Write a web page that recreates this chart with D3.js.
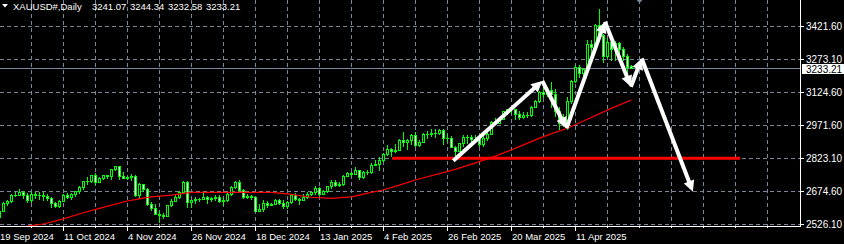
<!DOCTYPE html>
<html>
<head>
<meta charset="utf-8">
<title>XAUUSD#, Daily</title>
<script src="https://d3js.org/d3.v7.min.js"></script>
<style>
  html, body { margin: 0; padding: 0; background: #000; }
  svg { display: block; }
  text { font-family: "Liberation Sans", Arial, sans-serif; }
</style>
</head>
<body>
<svg id="chart" width="844" height="244"></svg>
<script>
// daily bars, index 0 = 19 Sep 2024
const opens = [2559,2587,2622,2628,2656,2657,2672,2658,2634,2663,2659,2656,2653,2644,2622,2608,2630,2657,2648,2662,
  2674,2692,2721,2720,2748,2716,2736,2747,2743,2774,2788,2743,2736,2737,2743,2659,2706,2685,2618,2598,
  2573,2565,2563,2612,2631,2650,2670,2715,2625,2633,2638,2640,2650,2640,2643,2650,2632,2633,2660,2694,
  2718,2680,2648,2652,2646,2587,2594,2622,2612,2617,2634,2621,2606,2624,2658,2640,2636,2648,2662,2670,
  2690,2663,2677,2697,2715,2703,2708,2745,2755,2754,2770,2740,2763,2760,2794,2798,2815,2842,2866,2856,
  2861,2908,2898,2904,2928,2883,2898,2935,2933,2939,2936,2951,2915,2916,2876,2858,2893,2918,2920,2910,
  2911,2889,2916,2934,2987,2984,3001,3035,3047,3044,3023,3011,3020,3019,3057,3084,3123,3113,3134,3114,
  3037,2985,2982,3082,3175,3237,3211,3229,3342,3326,3424,3381,3288,3349,3319,3344,3316,3288,3241.07];
const highs = [2600,2625,2634,2664,2670,2685,2674,2665,2673,2671,2669,2670,2660,2646,2625,2633,2660,2666,2665,2675,
  2696,2722,2740,2749,2758,2738,2749,2749,2775,2790,2790,2760,2745,2750,2749,2710,2709,2688,2626,2618,
  2583,2578,2614,2639,2656,2676,2721,2722,2636,2650,2643,2665,2652,2650,2657,2655,2646,2668,2696,2721,
  2726,2686,2660,2655,2654,2615,2633,2630,2620,2639,2637,2634,2628,2664,2665,2645,2660,2670,2673,2697,
  2692,2680,2700,2725,2725,2715,2746,2763,2760,2786,2772,2765,2771,2800,2817,2830,2845,2882,2870,2887,
  2911,2943,2910,2932,2942,2906,2937,2947,2954,2954,2956,2956,2931,2923,2881,2894,2927,2930,2927,2930,
  2913,2922,2941,2990,3005,3005,3038,3048,3057,3047,3036,3033,3032,3060,3087,3128,3149,3136,3167,3135,
  3055,3022,3099,3176,3245,3245,3232,3357,3358,3430,3500,3386,3367,3371,3352,3348,3328,3295,3244.34];
const lows = [2555,2585,2614,2624,2651,2655,2645,2624,2624,2644,2641,2635,2636,2605,2605,2603,2628,2642,2641,2652,
  2666,2685,2708,2714,2709,2715,2729,2732,2730,2770,2730,2733,2730,2725,2652,2643,2676,2610,2590,2572,
  2537,2555,2562,2606,2629,2643,2666,2605,2605,2621,2630,2637,2622,2632,2635,2625,2613,2631,2655,2689,
  2676,2643,2643,2637,2583,2583,2583,2603,2610,2615,2615,2597,2597,2622,2633,2615,2634,2645,2656,2664,
  2656,2660,2669,2689,2699,2696,2702,2741,2745,2752,2730,2735,2750,2755,2791,2772,2809,2837,2834,2853,
  2859,2880,2864,2890,2877,2881,2896,2915,2925,2918,2931,2890,2903,2874,2832,2857,2880,2894,2895,2896,
  2880,2880,2905,2932,2978,2982,2999,3023,3029,2999,3000,3007,3012,3013,3054,3076,3100,3106,3054,3015,
  2956,2970,2957,3072,3168,3193,3201,3227,3284,3323,3367,3260,3282,3266,3269,3300,3268,3202,3232.58];
const closes = [2587,2622,2628,2657,2657,2672,2658,2634,2663,2659,2656,2653,2644,2622,2608,2630,2657,2648,2662,2674,
  2692,2721,2720,2748,2716,2736,2747,2743,2774,2788,2743,2736,2737,2743,2659,2706,2685,2618,2598,2573,
  2565,2563,2612,2631,2650,2670,2715,2625,2633,2638,2640,2650,2640,2643,2650,2632,2633,2660,2694,2718,
  2680,2648,2652,2646,2587,2594,2622,2612,2617,2634,2621,2606,2624,2658,2640,2636,2648,2662,2670,2690,
  2663,2677,2697,2715,2703,2708,2745,2755,2754,2770,2740,2763,2760,2794,2798,2815,2842,2866,2856,2861,
  2908,2898,2904,2928,2883,2898,2935,2933,2939,2936,2951,2915,2916,2876,2858,2893,2918,2920,2910,2911,
  2889,2916,2934,2987,2984,3001,3035,3047,3044,3023,3011,3020,3019,3057,3084,3123,3113,3134,3114,3037,
  2982,2982,3082,3175,3237,3211,3229,3342,3326,3424,3381,3288,3349,3319,3344,3316,3288,3238,3233.21];

// moving average: [bar, price]
const maPoints = [[7,2517],[11,2526],[16,2549],[21,2577],[25,2597],[32,2630],[35,2640],[38,2649],[43,2657],
  [48,2669],[68,2669],[72,2662],[78,2647],[83,2642],[88,2649],[93,2669],[96,2680],[100,2702],[104,2725],
  [114,2773],[120,2808],[124,2833],[130,2876],[136,2921],[142,2959],[147,3000],[153,3049],[158,3087]];

// drawn objects: support level and zigzag arrows
const levelLine = [[98.25,2823],[185.2,2823]];
const zigzag = [[113.5,2812],[135.75,3173],[141.8,2959],[151.4,3441],[157.9,3147],[160.6,3275],[173.4,2672]];

const priceTicks = [3421.60, 3273.10, 3124.60, 2971.60, 2823.10, 2674.60, 2526.10];
const dateTicks = [0, 16, 32, 48, 64, 80, 96, 112, 128, 144];
const dateLabels = ["19 Sep 2024", "11 Oct 2024", "4 Nov 2024", "26 Nov 2024", "18 Dec 2024",
  "13 Jan 2025", "4 Feb 2025", "26 Feb 2025", "20 Mar 2025", "11 Apr 2025"];

const lime = "#00ff00", gridColor = "#778899";
const plotRight = 800, plotBottom = 226;

const svg = d3.select("#chart");
svg.append("rect").attr("width", 844).attr("height", 244).attr("fill", "#000");

const x = d3.scaleLinear().domain([0, 200]).range([-0.7, 799.3]);
const y = d3.scaleLinear().domain([2526.1, 3421.6]).range([224, 26]);
const col = i => Math.round(x(i));

svg.append("clipPath").attr("id", "plot")
  .append("rect").attr("x", 0).attr("y", 0).attr("width", plotRight).attr("height", plotBottom);

// grid
const grid = svg.append("g").attr("stroke", gridColor).attr("stroke-dasharray", "4,3");
grid.selectAll("line.v").data(d3.range(8, 200, 8).filter(i => x(i) < 798)).join("line")
  .attr("x1", i => col(i) + 0.5).attr("x2", i => col(i) + 0.5)
  .attr("y1", 0).attr("y2", plotBottom);
grid.selectAll("line.h").data(priceTicks).join("line")
  .attr("x1", 0).attr("x2", plotRight)
  .attr("y1", p => Math.round(y(p)) + 0.5).attr("y2", p => Math.round(y(p)) + 0.5);

const plot = svg.append("g").attr("clip-path", "url(#plot)");

// current price line
const last = closes.length - 1;
plot.append("line")
  .attr("x1", 0).attr("x2", plotRight)
  .attr("y1", Math.round(y(closes[last])) + 0.5).attr("y2", Math.round(y(closes[last])) + 0.5)
  .attr("stroke", gridColor);

// candles
const bars = closes.map((c, i) => ({ i, o: opens[i], h: highs[i], l: lows[i], c }));
plot.selectAll("line.wick").data(bars).join("line")
  .attr("x1", d => col(d.i) + 0.5).attr("x2", d => col(d.i) + 0.5)
  .attr("y1", d => Math.round(y(d.h))).attr("y2", d => Math.round(y(d.l)) + 1)
  .attr("stroke", lime);
plot.selectAll("rect.body").data(bars).join("rect")
  .each(function (d) {
    const top = Math.round(y(Math.max(d.o, d.c)));
    const bot = Math.round(y(Math.min(d.o, d.c)));
    const r = d3.select(this);
    if (bot - top < 1) {
      r.attr("x", col(d.i) - 1).attr("y", top).attr("width", 3).attr("height", 1).attr("fill", lime);
    } else {
      r.attr("x", col(d.i) - 0.5).attr("y", top + 0.5).attr("width", 2).attr("height", bot - top)
        .attr("fill", d.c >= d.o ? "#000" : "#fff").attr("stroke", lime);
    }
  });

// moving average
plot.append("path").datum(maPoints)
  .attr("d", d3.line().x(d => x(d[0])).y(d => y(d[1])))
  .attr("fill", "none").attr("stroke", "#ff0000").attr("stroke-width", 1.2);

// support level
plot.append("path").datum(levelLine)
  .attr("d", d3.line().x(d => x(d[0])).y(d => y(d[1])))
  .attr("stroke", "#ff0000").attr("stroke-width", 3);

// zigzag arrows
const arrows = plot.append("g");
for (let k = 1; k < zigzag.length; k++) {
  const x0 = x(zigzag[k - 1][0]), y0 = y(zigzag[k - 1][1]);
  const x1 = x(zigzag[k][0]), y1 = y(zigzag[k][1]);
  const len = Math.hypot(x1 - x0, y1 - y0), ux = (x1 - x0) / len, uy = (y1 - y0) / len;
  const headL = 11, headW = 5.5;
  const bx = x1 - ux * headL, by = y1 - uy * headL;
  arrows.append("line")
    .attr("x1", x0).attr("y1", y0).attr("x2", x1 - ux * (headL - 2)).attr("y2", y1 - uy * (headL - 2))
    .attr("stroke", "#fff").attr("stroke-width", 4);
  arrows.append("polygon")
    .attr("points", [[x1, y1], [bx - uy * headW, by + ux * headW], [bx + uy * headW, by - ux * headW]].join(" "))
    .attr("fill", "#fff");
}

// chart shift marker
const sx = col(160) + 0.5;
svg.append("polygon").attr("points", `${sx - 3},0 ${sx + 3},0 ${sx},3`).attr("fill", gridColor);

// axes
svg.append("line").attr("x1", plotRight + 0.5).attr("x2", plotRight + 0.5)
  .attr("y1", 0).attr("y2", plotBottom + 1).attr("stroke", "#fff");
svg.append("line").attr("x1", 0).attr("x2", plotRight + 1)
  .attr("y1", plotBottom + 0.5).attr("y2", plotBottom + 0.5).attr("stroke", "#fff");

svg.selectAll("line.ptick").data(priceTicks).join("line")
  .attr("x1", plotRight + 1).attr("x2", plotRight + 4)
  .attr("y1", p => Math.round(y(p)) + 0.5).attr("y2", p => Math.round(y(p)) + 0.5)
  .attr("stroke", "#fff");
svg.selectAll("text.price").data(priceTicks).join("text")
  .attr("x", 806).attr("y", p => Math.round(y(p)) + 4)
  .attr("font-size", 10).attr("fill", "#fff")
  .text(p => p.toFixed(2));

// current price box
const cy = Math.round(y(closes[last]));
svg.append("rect").attr("x", 802).attr("y", cy - 4).attr("width", 42).attr("height", 10).attr("fill", "#fff");
svg.append("text").attr("x", 806).attr("y", cy + 4.5)
  .attr("font-size", 10).attr("fill", "#000").text(closes[last].toFixed(2));

svg.selectAll("line.dtick").data(d3.range(0, 200, 8).filter(i => x(i) >= 0 && x(i) < 802)).join("line")
  .attr("x1", i => col(i) + 0.5).attr("x2", i => col(i) + 0.5)
  .attr("y1", plotBottom).attr("y2", i => plotBottom + (dateTicks.includes(i) ? 5 : 2))
  .attr("stroke", "#fff");
svg.selectAll("text.date").data(dateTicks).join("text")
  .attr("x", i => Math.max(0, col(i) + 1)).attr("y", 240)
  .attr("font-size", 9.5).attr("fill", "#fff")
  .text((i, k) => dateLabels[k]);

// title
svg.append("polygon").attr("points", "2,4 8,4 5,7.5").attr("fill", "#fff");
svg.append("text").attr("x", 13).attr("y", 9.5).attr("font-size", 9.5).attr("fill", "#fff")
  .text("XAUUSD#,Daily");
svg.append("text").attr("x", 92).attr("y", 9.5).attr("font-size", 9.5).attr("fill", "#fff")
  .attr("word-spacing", 1)
  .text([opens[last], highs[last], lows[last], closes[last]].map(v => v.toFixed(2)).join(" "));
</script>
</body>
</html>
